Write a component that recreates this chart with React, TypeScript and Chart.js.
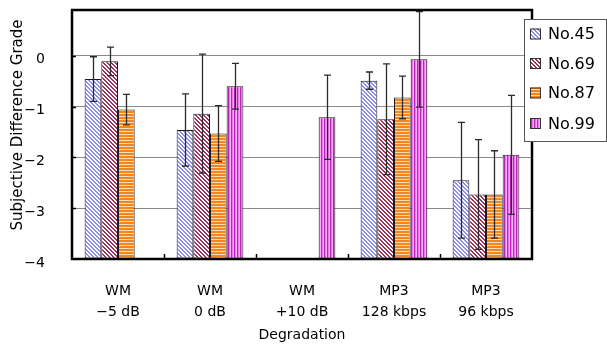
import React, { useEffect, useRef } from "react";
import { Chart, registerables } from "chart.js";

Chart.register(...registerables);

const categories: string[][] = [
  ["WM", "\u22125 dB"],
  ["WM", "0 dB"],
  ["WM", "+10 dB"],
  ["MP3", "128 kbps"],
  ["MP3", "96 kbps"],
];
const seriesNames = ["No.45", "No.69", "No.87", "No.99"];
const no45 = [-0.46, -1.46, null, -0.49, -2.45];
const no69 = [-0.11, -1.14, null, -1.25, -2.73];
const no87 = [-1.06, -1.53, null, -0.82, -2.73];
const no99 = [null, -0.6, -1.21, -0.07, -1.95];
const err45 = [0.44, 0.71, null, 0.17, 1.14];
const err69 = [0.28, 1.17, null, 1.09, 1.08];
const err87 = [0.3, 0.55, null, 0.42, 0.86];
const err99 = [null, 0.45, 0.83, 0.94, 1.17];
const yMin = -4;
const yMax = 0.9;

const FONT = "'DejaVu Sans', sans-serif";

function makePattern(kind: string): CanvasPattern | string {
  const c = document.createElement("canvas");
  const size = kind === "h" || kind === "v" ? 3 : 4;
  c.width = size;
  c.height = size;
  const g = c.getContext("2d")!;
  if (kind === "d45") {
    g.fillStyle = "#ffffff";
    g.fillRect(0, 0, 4, 4);
    g.fillStyle = "#8f8fe6";
    for (let x = 0; x < 4; x++)
      for (let y = 0; y < 4; y++) if (((x - y + 8) % 4) < 2) g.fillRect(x, y, 1, 1);
  } else if (kind === "d69") {
    g.fillStyle = "#ffffff";
    g.fillRect(0, 0, 4, 4);
    g.fillStyle = "#99335f";
    for (let x = 0; x < 4; x++)
      for (let y = 0; y < 4; y++) if (((x - y + 8) % 4) < 2) g.fillRect(x, y, 1, 1);
  } else if (kind === "h") {
    g.fillStyle = "#f5861f";
    g.fillRect(0, 0, 3, 3);
    g.fillStyle = "#ffd9b0";
    g.fillRect(0, 2, 3, 1);
  } else {
    g.fillStyle = "#ee77ee";
    g.fillRect(0, 0, 3, 3);
    g.fillStyle = "#b526b5";
    g.fillRect(0, 0, 1, 3);
    g.fillStyle = "#ffb0ff";
    g.fillRect(2, 0, 1, 3);
  }
  return g.createPattern(c, "repeat") || "#999";
}

const errorBarsPlugin = {
  id: "errorBars",
  afterDatasetsDraw(chart: any) {
    const ctx = chart.ctx;
    const y = chart.scales.y;
    ctx.save();
    ctx.strokeStyle = "#2b2b2b";
    ctx.lineWidth = 1.3;
    chart.data.datasets.forEach((ds: any, i: number) => {
      const meta = chart.getDatasetMeta(i);
      meta.data.forEach((el: any, j: number) => {
        const v = ds.data[j];
        const e = ds.errors[j];
        if (v == null || e == null) return;
        const x = Math.round(el.x) + 0.5;
        const t = y.getPixelForValue(v + e);
        const b = y.getPixelForValue(v - e);
        ctx.beginPath();
        ctx.moveTo(x, t);
        ctx.lineTo(x, b);
        ctx.moveTo(x - 3.5, t);
        ctx.lineTo(x + 3.5, t);
        ctx.moveTo(x - 3.5, b);
        ctx.lineTo(x + 3.5, b);
        ctx.stroke();
      });
    });
    ctx.restore();
  },
  afterDraw(chart: any) {
    const ctx = chart.ctx;
    const { left, right, top, bottom } = chart.chartArea;
    const ys = chart.scales.y;
    ctx.save();
    ctx.strokeStyle = "#000";
    ctx.lineWidth = 2.5;
    ctx.strokeRect(left, top, right - left, bottom - top);
    ctx.lineWidth = 1.5;
    ctx.beginPath();
    const n = chart.data.labels.length;
    const cw = (right - left) / n;
    for (let i = 1; i < n; i++) {
      const x = Math.round(left + cw * i) + 0.5;
      ctx.moveTo(x, bottom);
      ctx.lineTo(x, bottom - 5);
    }
    for (let v = -3; v <= 0; v++) {
      const yy = Math.round(ys.getPixelForValue(v)) + 0.5;
      ctx.moveTo(left, yy);
      ctx.lineTo(left + 4, yy);
    }
    ctx.stroke();
    const lx = 524.5, ly = 19.5, lw = 82, lh = 122;
    ctx.fillStyle = "#fff";
    ctx.fillRect(lx, ly, lw, lh);
    ctx.strokeStyle = "#555";
    ctx.lineWidth = 1;
    ctx.strokeRect(lx, ly, lw, lh);
    const centers = [34, 63.5, 93, 123.5];
    chart.data.datasets.forEach((ds: any, i: number) => {
      const cy = centers[i];
      ctx.fillStyle = ds.backgroundColor;
      ctx.fillRect(530, cy - 5.5, 11, 11);
      ctx.strokeStyle = "#333";
      ctx.strokeRect(530.5, cy - 5, 10, 10);
      ctx.fillStyle = "#000";
      ctx.font = "16px " + FONT;
      ctx.textBaseline = "middle";
      ctx.textAlign = "left";
      ctx.fillText(ds.label, 548, cy + 1);
    });
    ctx.restore();
  },
};

export default function App() {
  const ref = useRef<HTMLCanvasElement>(null);
  useEffect(() => {
    document.body.style.margin = "0";
    const fills = [makePattern("d45"), makePattern("d69"), makePattern("h"), makePattern("v")];
    const values = [no45, no69, no87, no99];
    const errs = [err45, err69, err87, err99];
    const chart = new Chart(ref.current!, {
      type: "bar",
      data: {
        labels: categories as any,
        datasets: seriesNames.map((name, i) => ({
          label: name,
          data: values[i] as any,
          errors: errs[i],
          backgroundColor: fills[i] as any,
          borderColor: "#1a1a1a",
          borderWidth: 1,
          borderSkipped: false,
          base: yMin,
          categoryPercentage: 0.725,
          barPercentage: 1,
        })) as any,
      },
      options: {
        animation: false,
        responsive: false,
        devicePixelRatio: 1,
        layout: { padding: { left: 0, right: 75, top: 10, bottom: 0 } },
        plugins: { legend: { display: false }, tooltip: { enabled: false } },
        scales: {
          x: {
            grid: { display: false },
            border: { display: false },
            ticks: {
              color: "#000",
              font: { family: FONT, size: 14, lineHeight: 1.5 },
              padding: 14,
              maxRotation: 0,
              autoSkip: false,
            },
            title: {
              display: true,
              text: "Degradation",
              color: "#000",
              font: { family: FONT, size: 14 },
              padding: { top: 0, bottom: 9 },
            },
            afterFit: (s: any) => {
              s.height = 94;
            },
          },
          y: {
            min: yMin,
            max: yMax,
            grid: {
              color: "#8a8a8a",
              lineWidth: 1,
              drawTicks: true,
              tickLength: 27,
              tickColor: "rgba(0,0,0,0)",
            },
            border: { display: false },
            ticks: {
              stepSize: 1,
              includeBounds: false,
              color: "#000",
              font: { family: FONT, size: 14 },
              padding: 0,
              labelOffset: 4,
              callback: (v: any) => (v < 0 ? "\u2212" + Math.abs(v) : String(v)),
            },
            title: {
              display: true,
              text: "\u00a0\u00a0\u00a0\u00a0Subjective Difference Grade",
              color: "#000",
              font: { family: FONT, size: 15 },
              padding: { top: 9, bottom: 0 },
            },
            afterFit: (s: any) => {
              s.width = 72;
            },
          },
        },
      } as any,
      plugins: [errorBarsPlugin],
    });
    return () => chart.destroy();
  }, []);
  return (
    <div style={{ width: 607, height: 353 }}>
      <canvas ref={ref} width={607} height={353} />
    </div>
  );
}
